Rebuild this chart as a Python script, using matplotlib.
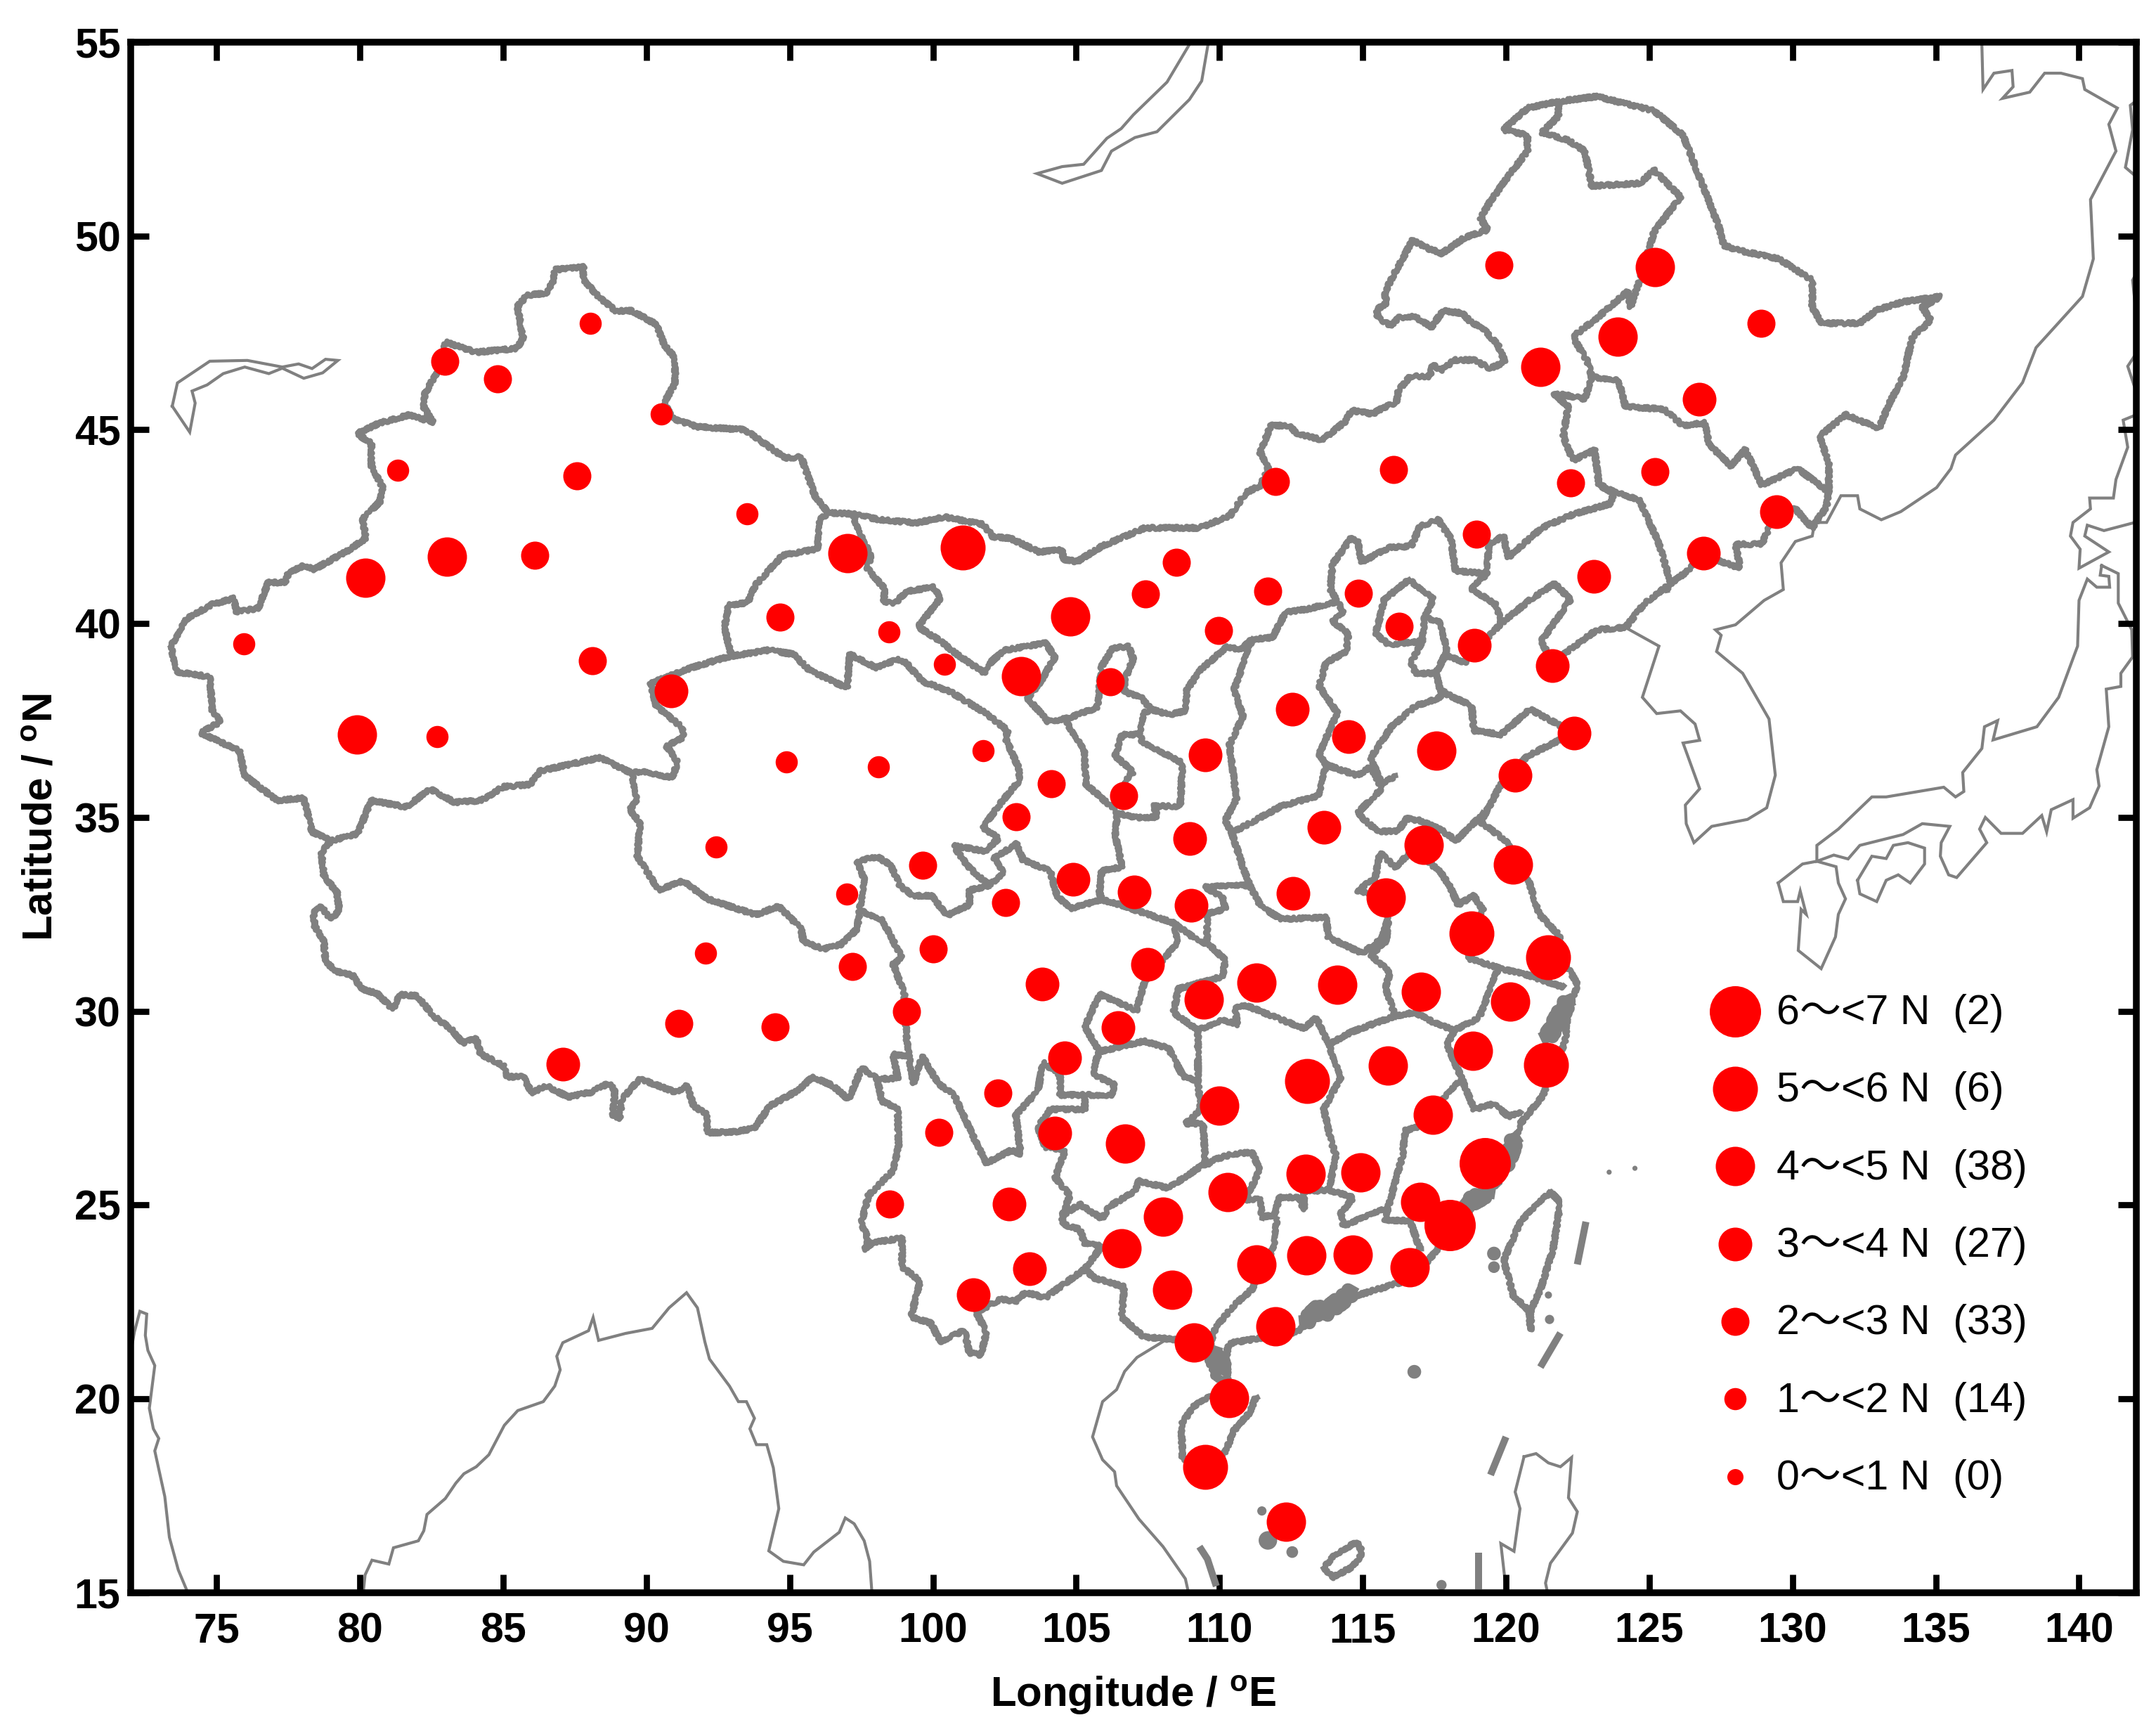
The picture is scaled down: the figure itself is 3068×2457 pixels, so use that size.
#!/usr/bin/env python3
# Stations over China map, sized by class of N
import matplotlib
matplotlib.use('Agg')
from matplotlib import pyplot as plt

plt.rcParams['font.family'] = ['Liberation Sans', 'Noto Sans CJK SC', 'DejaVu Sans']
plt.rcParams['mathtext.fontset'] = 'custom'
plt.rcParams['mathtext.bf'] = 'Liberation Sans:bold'
plt.rcParams['mathtext.rm'] = 'Liberation Sans'

# stations by class of N (lon, lat)
class6 = [(119.26, 26.08), (118.04, 24.48)]
class5 = [(101.05, 41.96), (118.8, 32.0), (121.46, 31.4), (113.07, 28.2), (121.4, 28.61), (109.51, 18.24)]
class4 = [(80.2, 41.18), (83.04, 41.73), (79.9, 37.14), (97.02, 41.81), (104.8, 40.18), (103.08, 38.64),
          (117.57, 36.73), (117.13, 34.29), (120.24, 33.78), (115.8, 32.93), (111.29, 30.73), (114.11, 30.68),
          (117.04, 30.5), (120.14, 30.25), (109.46, 30.3), (106.71, 26.58), (110.0, 27.56), (115.88, 28.6),
          (118.85, 28.98), (117.46, 27.33), (117.0, 25.09), (114.93, 25.85), (113.0, 25.81), (110.29, 25.33),
          (108.03, 24.7), (106.59, 23.89), (108.34, 22.82), (111.28, 23.47), (113.04, 23.7), (114.66, 23.72),
          (116.65, 23.4), (111.96, 21.88), (109.12, 21.45), (110.34, 20.03), (112.33, 16.83), (125.21, 49.19),
          (123.89, 47.4), (121.2, 46.62)]
class3 = [(90.85, 38.26), (123.06, 41.22), (118.9, 39.44), (121.62, 38.91), (112.54, 37.79), (114.5, 37.08),
          (122.37, 37.18), (120.32, 36.08), (109.49, 36.61), (108.96, 34.46), (113.64, 34.74), (104.89, 33.41),
          (107.02, 33.07), (109.02, 32.73), (112.57, 33.04), (107.49, 31.21), (103.82, 30.71), (106.47, 29.58),
          (104.59, 28.8), (104.25, 26.85), (102.67, 25.02), (103.37, 23.36), (101.4, 22.68), (126.74, 45.78),
          (129.43, 42.89), (126.89, 41.82), (87.08, 28.64)]
class2 = [(82.96, 46.77), (84.8, 46.31), (87.58, 43.81), (86.1, 41.77), (88.12, 39.05), (99.64, 33.77),
          (94.66, 40.16), (111.96, 43.67), (116.07, 43.97), (122.25, 43.63), (118.96, 42.3), (108.5, 41.59),
          (107.41, 40.76), (111.68, 40.83), (114.86, 40.79), (109.98, 39.83), (116.27, 39.93), (106.2, 38.5),
          (104.14, 35.87), (102.9, 35.01), (106.66, 35.56), (102.54, 32.81), (100.0, 31.61), (97.18, 31.16),
          (99.09, 30.0), (102.27, 27.89), (100.2, 26.87), (98.49, 25.02), (119.75, 49.25), (128.9, 47.75),
          (125.19, 43.92), (91.13, 29.68), (94.48, 29.59)]
class1 = [(88.05, 47.75), (90.53, 45.4), (81.31, 43.96), (93.51, 42.84), (75.96, 39.47), (82.7, 37.08),
          (94.88, 36.43), (98.09, 36.3), (92.43, 34.24), (97.0, 33.03), (98.47, 39.78), (100.4, 38.95),
          (101.75, 36.73), (92.07, 31.5)]

legend_low = [6, 5, 4, 3, 2, 1, 0]
legend_count = [2, 6, 38, 27, 33, 14, 0]
legend_lat = [30, 28, 26, 24, 22, 20, 18]
marker_px = {6: 73, 5: 64, 4: 56, 3: 48, 2: 40, 1: 31.5, 0: 23}

# outer boundary, clockwise from the Pamir tip to the Mongolian border
outer_north = [(73.4, 39.4), (73.9, 40.1), (74.85, 40.5), (75.6, 40.65), (75.7, 40.3), (76.45, 40.4), (76.8, 41.06),
    (77.4, 41.06), (77.5, 41.3), (78.05, 41.5), (78.4, 41.4), (79.55, 41.87), (80.2, 42.2), (80.1, 42.7), (80.7, 43.15),
    (80.8, 43.5), (80.4, 44.07), (80.4, 44.65), (79.9, 44.9), (80.67, 45.17), (81.7, 45.38), (82.55, 45.2), (82.23, 45.58),
    (82.27, 45.93), (82.74, 46.56), (83.0, 47.26), (84.05, 47.0), (85.46, 47.1), (85.7, 47.35), (85.5, 48.18), (85.83, 48.47),
    (86.5, 48.53), (86.77, 48.88), (86.8, 49.13), (87.8, 49.2), (87.8, 48.88), (88.37, 48.4), (88.93, 48.07), (89.5, 48.07),
    (90.34, 47.72), (90.62, 47.2), (91.0, 46.85), (91.0, 46.2), (90.62, 45.7), (90.9, 45.3), (91.75, 45.08), (93.44, 45.0),
    (94.84, 44.27), (95.4, 44.3), (95.88, 43.3), (96.34, 42.86), (97.2, 42.83), (98.13, 42.68), (99.44, 42.6), (100.4, 42.75),
    (101.75, 42.56), (102.1, 42.24), (102.7, 42.2), (103.7, 41.85), (104.5, 41.9), (104.56, 41.66), (105.03, 41.6), (105.9, 42.0),
    (107.4, 42.47), (109.3, 42.47), (110.36, 42.78), (110.93, 43.38), (111.42, 43.56), (111.71, 43.99), (111.42, 44.41),
    (111.79, 45.11), (112.4, 45.11), (112.73, 44.9), (113.59, 44.74), (114.37, 45.2), (114.61, 45.5), (115.35, 45.41),
    (115.68, 45.56), (116.17, 45.71), (116.25, 46.02), (116.66, 46.38), (117.35, 46.38), (117.44, 46.68), (117.72, 46.53),
    (118.21, 46.8), (118.87, 46.8), (119.44, 46.59), (119.97, 46.74), (119.72, 47.19), (119.15, 47.65), (118.79, 47.77),
    (118.46, 48.01), (117.8, 48.07), (117.4, 47.65), (116.82, 47.92), (116.25, 47.89), (115.96, 47.68), (115.51, 47.92),
    (115.5, 48.1), (115.84, 48.28), (115.76, 48.52), (116.0, 48.89), (116.74, 49.89), (117.31, 49.67), (117.76, 49.55),
    (118.54, 49.95), (119.36, 50.16), (119.11, 50.46), (119.44, 50.88), (120.09, 51.55), (120.75, 52.19), (120.75, 52.6),
    (119.9, 52.74), (120.75, 53.3), (121.83, 53.47), (123.17, 53.6), (125.17, 53.23), (126.18, 52.6), (126.84, 51.36),
    (127.43, 50.24), (127.6, 49.76), (128.18, 49.62), (129.52, 49.41), (130.69, 48.86), (130.69, 48.16), (131.02, 47.75),
    (132.35, 47.75), (132.94, 48.09), (133.86, 48.3), (135.16, 48.44), (134.53, 48.16), (134.83, 47.82), (134.19, 47.4),
    (133.86, 46.36), (133.36, 45.66), (133.02, 45.04), (131.85, 45.39), (130.94, 44.83), (131.27, 44.14), (131.27, 43.44),
    (131.19, 43.03), (130.69, 42.47), (130.1, 42.96), (129.43, 42.89), (128.93, 42.05), (128.0, 42.05), (128.18, 41.43),
    (126.84, 41.78), (126.34, 41.36), (124.84, 40.53), (124.17, 39.9), (123.17, 39.84), (121.62, 39.0), (121.23, 39.55),
    (122.25, 40.62), (121.7, 41.03), (120.92, 40.66), (119.82, 40.0), (118.57, 39.0), (117.87, 39.18), (117.55, 38.72),
    (117.71, 38.26), (118.8, 37.88), (118.88, 37.24), (119.82, 37.14), (120.84, 37.79), (122.37, 37.18), (120.76, 36.59),
    (119.82, 35.85), (119.35, 35.2), (119.12, 34.88), (119.98, 34.41), (120.76, 33.44), (121.15, 32.51), (121.86, 31.96),
    (122.0, 31.3), (122.5, 30.7), (122.15, 29.97), (122.07, 29.23), (121.3, 27.84), (120.5, 27.1), (119.9, 25.7),
    (118.97, 25.07), (117.5, 23.77), (116.82, 23.12), (115.8, 22.89), (114.76, 22.66), (113.8, 22.38), (112.7, 21.73),
    (111.66, 21.6), (110.46, 21.45), (110.28, 21.38), (110.28, 20.52), (109.86, 20.52), (109.58, 21.07), (109.69, 21.45),
    (108.22, 21.55), (107.36, 21.6), (106.59, 22.1), (106.67, 22.89), (105.64, 23.12), (105.3, 23.35), (104.27, 22.8),
    (103.92, 22.61), (103.23, 22.75), (102.89, 22.52), (102.37, 22.57), (101.51, 22.24), (101.86, 21.73), (101.69, 21.13),
    (101.27, 21.19), (101.1, 21.77), (100.25, 21.48), (99.94, 21.95), (99.24, 22.12), (99.55, 23.05), (98.92, 23.4),
    (98.92, 24.15), (97.9, 24.03), (97.6, 23.86), (97.75, 24.09), (97.5, 24.55), (97.75, 25.25), (98.6, 25.88), (98.8, 26.52),
    (98.77, 27.5), (98.22, 27.68), (98.06, 28.26), (97.52, 28.54), (97.05, 27.73), (96.5, 28.08), (95.8, 28.31), (95.32, 27.97),
    (94.31, 27.56), (93.76, 26.98), (93.06, 26.89), (92.12, 26.87), (92.12, 27.33), (91.65, 27.56), (91.41, 28.08), (91.02, 27.91),
    (89.77, 28.26), (89.14, 27.73), (89.07, 27.21), (88.83, 27.33), (88.9, 27.97), (88.67, 28.14), (88.05, 27.91), (87.27, 27.79),
    (86.5, 28.08), (86.0, 27.9), (85.7, 28.31), (85.15, 28.31), (85.0, 28.6), (84.21, 28.9), (84.06, 29.3), (83.59, 29.18),
    (83.2, 29.53), (82.57, 29.88), (82.0, 30.4), (81.35, 30.43), (81.16, 30.05), (80.6, 30.46), (80.07, 30.57), (79.75, 30.92),
    (79.2, 31.03), (78.8, 31.27), (78.74, 31.8), (78.42, 32.2), (78.38, 32.54), (78.66, 32.7), (78.97, 32.37), (79.28, 32.6),
    (79.2, 33.06), (78.74, 33.5), (78.66, 34.1), (79.0, 34.4)]
xinjiang_south = [(73.4, 39.4), (73.63, 38.75), (74.76, 38.63), (74.85, 37.76), (75.13, 37.47), (74.44, 37.18), (75.79, 36.72),
    (75.98, 36.08), (77.1, 35.44), (78.04, 35.5), (78.33, 34.63), (79.0, 34.4), (79.92, 34.58), (80.39, 35.44), (81.61, 35.27),
    (82.46, 35.73), (83.3, 35.39), (84.24, 35.44), (85.0, 35.79), (85.93, 35.85), (86.3, 36.2), (88.37, 36.54), (89.49, 36.14)]
tibet_qinghai = [(89.49, 36.14), (89.68, 35.44), (89.4, 35.2), (89.78, 34.87), (89.68, 34.0), (90.43, 33.13), (91.28, 33.36),
    (92.12, 32.9), (93.81, 32.49), (94.62, 32.71), (95.4, 32.13), (95.48, 31.79), (96.19, 31.61), (96.81, 31.73), (97.36, 32.13), (97.44, 32.6)]
qinghai_north = [(89.49, 36.14), (89.87, 36.2), (90.9, 36.02), (91.09, 36.43), (90.71, 36.83), (91.28, 37.07), (91.28, 37.3),
    (90.34, 37.88), (90.15, 38.46), (91.56, 38.86), (92.87, 39.15), (94.28, 39.32), (95.13, 39.21), (95.69, 38.8), (97.0, 38.34),
    (97.1, 39.21), (98.03, 38.86), (98.79, 39.09), (99.07, 38.98), (99.63, 38.51), (100.57, 38.26), (101.82, 37.7), (102.61, 37.24),
    (102.53, 37.05), (103.0, 36.26), (103.0, 35.94), (102.37, 35.38), (101.75, 34.74), (102.29, 34.46), (101.82, 34.13), (100.73, 34.27),
    (101.2, 33.75), (101.65, 33.45), (101.98, 33.25)]
qinghai_sichuan = [(97.44, 32.6), (97.6, 33.41), (97.36, 33.87), (98.06, 33.99), (98.53, 33.76), (98.85, 33.24), (99.32, 32.98), (99.95, 32.98),
    (100.49, 32.47), (101.28, 32.75), (101.28, 33.12), (101.98, 33.25)]
gansu_sichuan = [(101.98, 33.25), (102.45, 33.58), (102.14, 33.95), (102.92, 34.32), (103.15, 33.9), (104.09, 33.62), (104.33, 32.98),
    (104.8, 32.65), (105.89, 32.88), (106.75, 32.7), (107.07, 32.61), (108.4, 32.28), (109.34, 31.77), (109.57, 31.77)]
xinjiang_gansu = [(96.34, 42.86), (96.06, 42.68), (95.97, 41.93), (94.75, 41.76), (93.81, 41.0), (93.53, 40.54), (92.87, 40.48),
    (92.72, 39.9), (92.97, 39.15)]
inner_mongolia_south = [(97.19, 42.8), (97.85, 41.7), (97.66, 41.47), (98.32, 40.89), (98.28, 40.54), (98.69, 40.54), (99.07, 40.83),
    (100.02, 40.94), (100.26, 40.66), (99.48, 39.92), (100.26, 39.55), (100.89, 39.18), (101.82, 38.72), (102.06, 39.04), (102.53, 39.32),
    (103.94, 39.5), (104.25, 39.13), (103.78, 38.53), (103.31, 38.07), (104.02, 37.47), (104.72, 37.56), (105.74, 37.84), (105.81, 38.35),
    (105.89, 38.9), (106.28, 39.37), (106.83, 39.41), (106.99, 39.09), (106.68, 38.53), (106.68, 38.25), (107.3, 38.07), (107.61, 37.79),
    (108.24, 37.65), (108.79, 37.75), (108.87, 38.3), (109.34, 38.81), (110.27, 39.41), (110.74, 39.32), (111.14, 39.6), (111.84, 39.64),
    (112.31, 40.29), (113.09, 40.38), (114.11, 40.57), (113.87, 40.89), (113.95, 41.54), (114.58, 42.19), (114.81, 42.14), (114.97, 41.59),
    (115.91, 41.96), (116.69, 42.0), (117.0, 42.51), (117.63, 42.68), (118.08, 42.19), (118.24, 41.36), (119.33, 41.29), (119.41, 42.05),
    (119.91, 42.26), (120.08, 41.71), (121.25, 42.47), (122.34, 42.82), (123.67, 43.1), (123.75, 43.37), (123.25, 43.58), (123.09, 44.48),
    (122.34, 44.21), (122.0, 44.83), (122.17, 45.6), (121.67, 45.94), (122.25, 45.87), (122.75, 45.8), (123.0, 46.36), (122.84, 46.77),
    (122.33, 47.4), (123.17, 47.88), (124.26, 48.58), (124.34, 48.16), (124.67, 48.86), (125.17, 50.11), (126.09, 51.01), (125.17, 51.7),
    (124.67, 51.36), (123.0, 51.29), (122.75, 52.19), (122.17, 52.47), (121.25, 52.67), (121.83, 53.09), (121.83, 53.47)]
hebei_liaoning = [(119.33, 41.29), (118.8, 40.9), (119.66, 40.48), (119.82, 40.06)]
heilongjiang_jilin = [(123.0, 46.36), (123.92, 46.29), (124.17, 45.6), (125.51, 45.53), (126.18, 45.11), (126.93, 45.18), (127.09, 44.62),
    (127.85, 44.07), (128.35, 44.49), (128.93, 43.58), (130.18, 44.0), (131.19, 43.44)]
jilin_liaoning = [(123.25, 43.58), (124.67, 43.17), (125.34, 42.06), (125.76, 41.02), (125.59, 40.88)]
beijing = [(116.61, 41.13), (117.47, 40.66), (117.16, 40.15), (117.08, 39.55), (115.91, 39.46), (115.44, 39.74), (115.6, 40.15), (115.75, 40.62), (116.61, 41.13)]
tianjin = [(117.16, 40.15), (117.71, 40.06), (117.94, 39.27), (117.55, 38.72), (116.85, 38.72), (116.69, 39.0), (117.08, 39.55)]
shanxi_hebei = [(114.11, 40.57), (114.34, 40.29), (113.95, 40.06), (114.5, 39.74), (114.42, 39.27), (113.72, 39.0), (113.48, 38.39),
    (114.11, 37.7), (113.72, 37.05), (113.48, 36.63), (113.72, 36.36), (114.81, 36.08), (115.28, 36.31), (115.67, 35.75), (114.81, 35.11),
    (115.52, 34.64), (116.22, 34.64), (116.53, 34.97), (117.0, 34.92), (117.71, 34.69), (118.26, 34.41), (118.73, 34.74), (119.2, 35.11)]
shandong_hebei = [(116.14, 36.08), (115.67, 35.85), (115.28, 36.54), (115.99, 37.33), (116.85, 37.88), (117.63, 38.07), (117.87, 38.25)]
shanxi_henan = [(113.72, 36.36), (113.48, 35.57), (112.15, 35.29), (110.43, 34.6)]
shanxi_shaanxi = [(111.14, 39.6), (110.51, 38.3), (110.82, 37.61), (110.35, 36.87), (110.59, 35.48), (110.2, 34.92), (110.43, 34.6),
    (110.82, 33.72), (111.06, 33.25), (111.45, 32.7), (112.15, 32.38), (113.72, 32.42), (113.8, 31.91), (114.97, 31.5), (115.67, 31.87), (115.88, 32.38)]
shaanxi_hubei = [(111.06, 33.25), (109.49, 33.21), (110.12, 32.93), (110.2, 32.65), (109.57, 32.51), (109.57, 31.77), (110.2, 31.32),
    (110.11, 30.9), (108.57, 30.58), (108.39, 29.97), (109.25, 29.51), (109.25, 28.21), (109.34, 27.47), (108.82, 27.1), (109.43, 27.1),
    (109.51, 26.08), (108.22, 25.44), (107.19, 25.62), (107.02, 25.34), (106.16, 24.97), (105.9, 24.65), (105.13, 25.02), (104.52, 24.74),
    (104.52, 24.51), (105.13, 24.37), (105.3, 24.0), (105.9, 23.95), (105.3, 23.35)]
henan_anhui = [(115.88, 32.38), (115.8, 32.93), (114.81, 33.12), (115.44, 33.44), (115.6, 34.09), (116.14, 33.72), (116.77, 34.18),
    (117.7, 33.6), (118.02, 33.25), (118.33, 32.75), (118.88, 32.98), (119.2, 32.61), (118.8, 32.0), (118.71, 31.36), (119.92, 31.08), (120.69, 30.95), (122.0, 30.62)]
anhui_hubei = [(115.88, 32.38), (115.88, 31.83), (115.27, 31.46), (115.96, 31.0), (115.79, 30.62), (116.13, 29.88), (116.82, 29.97),
    (117.51, 29.7), (118.2, 29.51), (117.94, 29.14), (118.46, 28.26), (118.89, 27.47), (119.57, 27.61), (120.09, 27.29), (120.52, 27.38)]
zhejiang_anhui = [(119.74, 31.13), (119.06, 29.83), (118.2, 29.51)]
jiangxi_fujian = [(118.46, 28.26), (116.91, 27.01), (116.48, 26.92), (116.39, 26.27), (115.88, 24.93), (115.79, 24.6), (116.65, 24.6), (117.0, 23.86)]
jiangxi_guangdong = [(115.88, 24.93), (114.76, 24.6), (114.33, 24.46), (114.24, 24.79), (114.67, 25.2), (113.81, 25.39), (112.95, 25.35),
    (112.95, 24.88), (112.78, 25.2), (112.09, 25.2), (111.92, 24.74), (111.49, 24.7)]
guangdong_guangxi = [(112.0, 24.65), (111.92, 23.95), (111.15, 22.84), (110.46, 22.38), (109.86, 21.83), (109.69, 21.45)]
hunan_guangxi = [(111.49, 24.7), (111.4, 25.16), (110.89, 25.11), (111.4, 25.9), (111.15, 26.36), (110.46, 26.32), (109.86, 26.18), (109.43, 25.99), (109.51, 26.08)]
hunan_jiangxi = [(113.81, 29.14), (114.24, 28.31), (113.64, 27.47), (113.9, 26.64), (114.07, 26.27), (113.81, 25.39)]
hunan_hubei = [(109.25, 29.51), (110.11, 29.79), (110.63, 29.65), (110.54, 30.07), (110.89, 30.16), (112.0, 29.83), (112.95, 29.56),
    (113.38, 29.83), (113.81, 29.14), (114.59, 29.46), (116.13, 29.88)]
sichuan_chongqing = [(108.4, 32.28), (108.57, 31.78), (108.05, 31.36), (107.36, 30.71), (107.1, 30.02), (105.81, 30.44), (105.3, 29.6),
    (105.81, 28.96), (107.36, 29.23), (108.22, 29.05), (108.74, 28.31), (109.25, 28.21)]
tibet_sichuan = [(97.44, 32.6), (98.22, 32.37), (98.92, 31.38), (98.61, 31.21), (99.0, 30.46), (99.08, 29.3), (99.16, 28.84),
    (98.61, 28.89), (98.77, 28.26), (98.06, 28.26)]
sichuan_yunnan = [(99.16, 28.84), (99.32, 28.14), (99.63, 28.84), (100.18, 28.14), (100.74, 27.84), (101.43, 26.73), (101.86, 26.08),
    (102.72, 26.41), (103.06, 26.32), (102.89, 27.33), (103.66, 27.94), (103.84, 28.68), (104.44, 28.35), (104.44, 27.84), (105.3, 27.84),
    (105.3, 27.47), (104.09, 27.47), (103.66, 27.01), (103.92, 26.5), (104.61, 26.41), (104.27, 25.71), (104.78, 25.25), (104.52, 24.74)]
sichuan_guizhou = [(105.3, 27.84), (106.24, 27.84), (106.33, 28.12), (105.64, 28.35), (105.64, 28.63), (105.81, 28.96)]
ningxia_west = [(104.64, 37.47), (105.27, 36.77), (105.35, 35.85), (106.21, 35.29), (106.44, 35.11), (106.36, 34.55), (106.6, 33.72),
    (105.89, 33.63), (105.81, 33.07), (105.89, 32.88)]
ningxia_east = [(107.61, 37.79), (107.38, 37.7), (107.22, 37.14), (106.6, 37.14), (106.36, 36.59), (106.99, 36.17), (106.68, 35.94), (106.66, 35.56)]
gansu_shaanxi = [(107.22, 37.14), (107.3, 36.96), (108.71, 36.4), (108.63, 35.29), (107.69, 35.29), (107.85, 35.01), (107.1, 35.0), (106.44, 35.11)]
taiwan = [(121.55, 25.34), (120.52, 24.6), (119.92, 23.58), (120.26, 22.66), (120.78, 22.29), (120.87, 21.78), (120.87, 22.3), (121.21, 22.84),
    (121.64, 23.86), (121.9, 25.07), (121.55, 25.34)]
hainan = [(110.35, 20.05), (109.65, 20.05), (109.09, 19.81), (108.67, 19.34), (108.71, 18.47), (109.5, 18.2), (110.21, 18.63), (110.5, 19.18),
    (111.06, 19.65), (111.27, 20.05)]
dense_coast = [[(113.64, 22.2), (114.6, 22.75)], [(122.15, 30.25), (121.47, 29.33)], [(119.4, 25.34), (118.71, 25.07)], [(120.3, 26.7), (119.95, 26.0)],
    [(109.84, 21.2), (110.05, 20.75)], [(113.0, 22.0), (113.6, 22.4)]]

# dashed line in the South China Sea and the small islands
nine_dash = [[(122.79, 24.57), (122.49, 23.47)], [(121.9, 21.7), (121.2, 20.82)], [(120.0, 19.02), (119.46, 18.04)],
    [(119.04, 16.03), (119.04, 15.09)], [(109.3, 16.19), (109.58, 15.87), (109.89, 15.17)]]
island_lon = [116.8, 111.48, 111.69, 112.54, 117.75, 119.58, 119.58, 121.48, 121.52, 123.6, 124.5]
island_lat = [20.7, 17.11, 16.35, 16.05, 15.2, 23.75, 23.4, 22.68, 22.05, 25.85, 25.95]
island_size = [22, 10, 40, 16, 12, 22, 16, 6, 10, 3, 3]
atoll = [(113.66, 15.64), (113.95, 15.95), (114.79, 16.31), (115.0, 16.03), (114.65, 15.67), (113.95, 15.4), (113.66, 15.64)]

# neighbouring lakes and coasts (thin)
balkhash = [(73.45, 45.61), (73.63, 46.21), (74.76, 46.77), (76.07, 46.79), (77.29, 46.62), (77.86, 46.7), (78.33, 46.58), (78.8, 46.82), (79.23, 46.79),
    (78.7, 46.47), (78.04, 46.33), (77.29, 46.59), (76.82, 46.45), (75.98, 46.62), (75.23, 46.45), (74.67, 46.16), (74.14, 46.0), (74.25, 45.69), (74.06, 44.94), (73.45, 45.61)]
baikal = [(109.3, 55.3), (108.95, 54.94), (108.17, 53.97), (107.0, 53.13), (106.57, 52.77), (106.07, 52.52), (105.26, 51.85), (104.51, 51.79), (103.63, 51.61),
    (104.51, 51.36), (105.88, 51.69), (106.23, 52.19), (107.05, 52.54), (107.82, 52.69), (108.95, 53.52), (109.38, 54.0), (109.6, 54.94), (109.65, 55.3)]
korea_russia = [(124.17, 39.9), (125.34, 39.42), (124.76, 38.1), (125.26, 37.68), (126.09, 37.75), (126.6, 37.41), (126.76, 36.99), (126.18, 36.92), (126.76, 35.74),
    (126.26, 35.32), (126.29, 34.84), (126.56, 34.35), (127.18, 34.77), (128.43, 34.95), (129.1, 35.25), (129.4, 36.09), (129.18, 37.54), (128.26, 38.72), (127.35, 39.28),
    (127.51, 39.7), (127.31, 39.84), (128.01, 39.97), (129.01, 40.6), (129.68, 40.88), (129.6, 41.57), (130.1, 42.12), (130.69, 42.26), (130.77, 42.61), (131.19, 42.61),
    (131.69, 43.3), (132.27, 43.3), (132.35, 42.96), (133.1, 42.68), (133.78, 42.89), (135.03, 43.51), (135.53, 44.0), (135.69, 44.35), (137.03, 45.25), (138.03, 46.22),
    (138.5, 47.12), (140.12, 48.44), (140.5, 49.41), (140.4, 50.94), (141.29, 52.19), (141.04, 52.88), (141.34, 53.3), (140.2, 53.78), (140.12, 54.06), (139.37, 54.2),
    (138.8, 54.2), (138.28, 53.71), (137.33, 53.55), (137.7, 53.85), (137.66, 54.27), (137.03, 54.2), (136.65, 53.78), (136.6, 55.2)]
sakhalin_north = [(142.2, 53.6), (141.79, 53.37), (141.87, 52.74), (141.62, 51.77), (141.95, 51.56), (142.2, 51.2)]
sakhalin_south = [(142.2, 49.3), (141.87, 48.86), (141.95, 48.3), (142.2, 47.8)]
sakhalin_tip = [(142.2, 47.2), (141.7, 46.64), (141.95, 46.08), (142.2, 45.9)]
hokkaido = [(142.2, 45.45), (141.54, 45.25), (141.7, 44.55), (141.29, 43.72), (141.2, 43.24), (140.37, 43.24), (140.4, 42.96), (139.79, 42.61), (139.7, 42.26),
    (140.04, 41.92), (140.0, 41.43), (141.04, 41.85), (140.2, 42.26), (140.29, 42.54), (140.87, 42.4), (141.95, 42.61), (142.2, 42.55)]
honshu = [(140.79, 41.5), (141.37, 41.29), (141.37, 40.53), (141.84, 39.84), (141.87, 39.14), (141.46, 38.72), (141.46, 38.38), (140.95, 38.31), (141.04, 37.34), (140.62, 36.23),
    (140.7, 35.81), (140.37, 35.25), (139.79, 34.98), (139.79, 35.46), (139.03, 35.2), (138.87, 34.63), (138.7, 35.05), (138.03, 34.59), (137.28, 34.59), (136.73, 35.0), (136.53, 34.7),
    (136.78, 34.35), (135.73, 33.45), (135.45, 33.52), (135.16, 34.0), (135.19, 34.35), (135.49, 34.77), (134.53, 34.84), (133.86, 34.56), (132.35, 34.28), (131.94, 33.93), (131.44, 34.03),
    (130.85, 33.87), (130.85, 34.28), (131.6, 34.7), (132.77, 35.53), (133.27, 35.53), (135.28, 35.78), (135.69, 35.53), (135.98, 35.67), (135.94, 36.16), (136.61, 36.78), (136.7, 37.34),
    (137.16, 37.5), (137.0, 37.0), (138.53, 37.34), (139.29, 38.1), (139.95, 39.42), (140.0, 40.6), (140.29, 41.15), (140.62, 40.94), (141.07, 40.94), (141.04, 41.22), (140.74, 41.25), (140.79, 41.5)]
shikoku = [(132.27, 33.38), (132.77, 34.0), (133.27, 33.94), (133.52, 34.28), (134.03, 34.35), (134.61, 34.21), (134.61, 33.8), (134.11, 33.31), (133.69, 33.52), (133.27, 33.38),
    (132.94, 32.83), (132.35, 33.03), (132.27, 33.38)]
kyushu = [(129.5, 33.31), (130.35, 33.8), (130.85, 33.87), (131.52, 33.73), (131.6, 33.31), (131.85, 32.9), (131.6, 32.5), (131.5, 31.92), (131.0, 31.1), (130.2, 31.57), (130.3, 32.63),
    (130.48, 32.5), (130.27, 33.1), (130.18, 32.83), (129.68, 32.83), (129.5, 33.31)]
luzon_east = [(120.63, 18.51), (121.05, 18.59), (121.48, 18.35), (121.9, 18.25), (122.29, 18.49), (122.18, 17.45), (122.49, 17.09), (122.32, 16.54), (121.55, 15.76), (121.38, 15.25), (121.48, 14.9)]
luzon_west = [(120.63, 18.51), (120.32, 17.6), (120.49, 17.17), (120.28, 16.07), (119.82, 16.27), (120.03, 14.9)]
vietnam = [(108.03, 21.48), (107.12, 21.07), (106.69, 20.71), (106.41, 20.24), (105.92, 19.93), (105.57, 19.02), (105.92, 18.43), (106.34, 18.12), (106.41, 17.76), (107.19, 16.9),
    (108.03, 16.19), (108.81, 15.36), (108.95, 14.9)]
india_west = [(72.0, 21.2), (72.13, 21.73), (72.32, 22.26), (72.56, 22.19), (72.51, 21.64), (72.6, 21.25), (72.84, 20.86), (72.65, 19.76), (72.79, 19.23), (72.98, 18.98), (72.84, 18.66),
    (73.19, 17.48), (73.35, 16.43), (73.66, 15.59), (74.05, 14.9)]
bay_of_bengal = [(80.1, 14.9), (80.18, 15.46), (80.42, 15.84), (81.01, 15.74), (81.17, 16.16), (82.04, 16.34), (82.23, 16.6), (82.34, 17.02), (82.98, 17.43), (83.35, 17.83), (83.63, 18.07),
    (84.06, 18.25), (84.5, 18.56), (85.04, 19.32), (85.51, 19.7), (86.4, 19.93), (86.8, 20.33), (86.99, 20.75), (86.87, 21.1), (87.08, 21.45), (87.98, 21.76), (88.14, 22.1), (88.33, 21.51),
    (89.27, 21.69), (90.2, 21.82), (90.79, 22.35), (91.4, 22.74), (91.78, 22.35), (92.04, 21.47), (92.2, 21.03), (92.9, 20.33), (93.21, 19.93), (93.49, 19.93), (93.77, 19.5), (93.61, 19.23),
    (93.84, 18.82), (94.2, 18.82), (94.43, 18.22), (94.62, 17.17), (94.27, 16.08), (94.78, 15.81), (95.49, 15.72), (95.84, 16.05), (96.73, 16.56), (96.94, 16.93), (97.25, 16.78), (97.6, 16.34),
    (97.79, 15.81), (97.88, 14.9)]

province_lines = [outer_north, xinjiang_south, tibet_qinghai, qinghai_north, qinghai_sichuan, gansu_sichuan, xinjiang_gansu,
    inner_mongolia_south, hebei_liaoning, heilongjiang_jilin, jilin_liaoning, beijing, tianjin, shanxi_hebei, shandong_hebei,
    shanxi_henan, shanxi_shaanxi, shaanxi_hubei, henan_anhui, anhui_hubei, zhejiang_anhui, jiangxi_fujian, jiangxi_guangdong,
    guangdong_guangxi, hunan_guangxi, hunan_jiangxi, hunan_hubei, sichuan_chongqing, tibet_sichuan, sichuan_yunnan, sichuan_guizhou,
    ningxia_west, ningxia_east, gansu_shaanxi, taiwan, hainan, atoll]
thin_lines = [balkhash, baikal, korea_russia, sakhalin_north, sakhalin_south, sakhalin_tip, hokkaido, honshu, shikoku, kyushu,
    luzon_east, luzon_west, vietnam, india_west, bay_of_bengal]

GREY = '#808080'
DPI = 300
fig = plt.figure(figsize=(3068 / DPI, 2457 / DPI), dpi=DPI)
ax = fig.add_axes([186 / 3068, (2457 - 2266) / 2457, (3040 - 186) / 3068, (2266 - 60) / 2457])


def size_of(n):
    return (marker_px[n] * 72 / DPI) ** 2


for seg in thin_lines:
    xs, ys = zip(*seg)
    ax.plot(xs, ys, color=GREY, lw=1.0, solid_joinstyle='miter', zorder=1)

for seg in province_lines:
    xs, ys = zip(*seg)
    line, = ax.plot(xs, ys, color=GREY, lw=1.8, zorder=2)
    line.set_sketch_params(scale=2.2, length=7, randomness=5)

for seg in dense_coast:
    xs, ys = zip(*seg)
    line, = ax.plot(xs, ys, color=GREY, lw=4.5, zorder=2)
    line.set_sketch_params(scale=6, length=10, randomness=5)

for seg in nine_dash:
    xs, ys = zip(*seg)
    ax.plot(xs, ys, color=GREY, lw=2.4, solid_capstyle='butt', zorder=2)
ax.scatter(island_lon, island_lat, s=island_size, color=GREY, linewidths=0, zorder=2)

for n, pts in zip([6, 5, 4, 3, 2, 1], [class6, class5, class4, class3, class2, class1]):
    xs, ys = zip(*pts)
    ax.scatter(xs, ys, s=size_of(n), color='#ff0000', linewidths=0, zorder=3)

# legend drawn by hand in data coordinates
for low, count, lat in zip(legend_low, legend_count, legend_lat):
    ax.scatter([128.0], [lat], s=size_of(low), color='#ff0000', linewidths=0, zorder=3)
    ax.text(129.45, lat - 0.05, f'{low}～<{low + 1} N  ({count})', fontsize=14.2, va='center', ha='left', color='black', zorder=4)

ax.set_xlim(72, 142)
ax.set_ylim(15, 55)
ax.set_xticks(range(75, 141, 5))
ax.set_yticks(range(15, 56, 5))
ax.tick_params(direction='in', length=6.2, width=2.1, top=True, right=True, labelsize=14.2, pad=6.5)
ax.tick_params(axis='y', pad=3.5)
for lab in ax.get_xticklabels() + ax.get_yticklabels():
    lab.set_fontweight('bold')
for sp in ax.spines.values():
    sp.set_linewidth(2.3)
    sp.set_zorder(5)

ax.set_xlabel(r'Longitude / $\mathbf{^{o}}$E', fontsize=14.4, fontweight='bold', labelpad=8)
ax.set_ylabel(r'Latitude / $\mathbf{^{o}}$N', fontsize=14.4, fontweight='bold', labelpad=4.5)

fig.savefig('out.png', dpi=DPI)
